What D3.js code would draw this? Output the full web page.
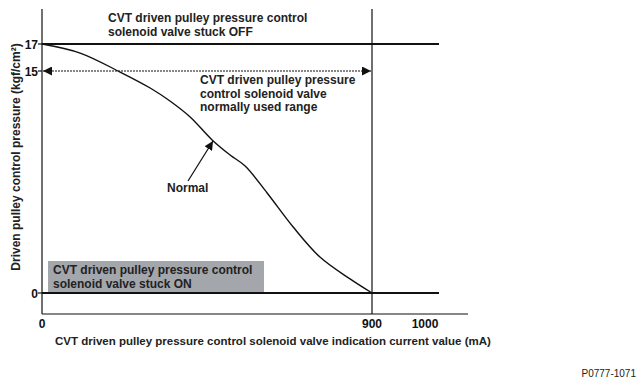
<html>
<head>
    <style>
        body { margin: 0; background: #ffffff; font-family: "Liberation Sans", Arial, Helvetica, sans-serif; }
        svg { display: block; }
    </style>
    <script src="https://cdn.jsdelivr.net/npm/d3@7"></script>
</head>
<body>
<svg id="grafico"></svg>
<script>
    // datos
    let corriente = [0, 104, 213, 295, 349, 404, 464, 513, 554, 614, 685, 758, 840, 900];
    let presion   = [17, 16.33, 14.93, 13.85, 12.97, 11.89, 10.34, 9.32, 8.58, 6.76, 4.46, 2.43, 0.95, 0];

    let ticksX = [0, 900, 1000];
    let ticksY = [0, 15, 17];
    let corrienteMax = 900;   // limite de la zona de uso
    let presionRango = 15;

    let textoOff   = ["CVT driven pulley pressure control", "solenoid valve stuck OFF"];
    let textoOn    = ["CVT driven pulley pressure control", "solenoid valve stuck ON"];
    let textoRango = ["CVT driven pulley pressure", "control solenoid valve", "normally used range"];
    let textoNormal = "Normal";
    let tituloX = "CVT driven pulley pressure control solenoid valve indication current value (mA)";
    let tituloY = "Driven pulley control pressure (kgf/cm²)";
    let codigo = "P0777-1071";

    let ancho = 642, alto = 387;
    let svg = d3.select("#grafico").attr("width", ancho).attr("height", alto);

    // escalas por tramos (el dibujo original no es lineal)
    let x = d3.scaleLinear().domain([0, 900, 1000]).range([42, 372, 425]);
    let y = d3.scaleLinear().domain([0, 15, 17]).range([293, 71, 44]);

    let negro = "#111";
    let fuente = 12;

    // ejes
    svg.append("line").attr("x1", 42).attr("x2", 42).attr("y1", 9).attr("y2", 314)
        .attr("stroke", negro).attr("stroke-width", 1.2);
    svg.append("line").attr("x1", 42).attr("x2", 468).attr("y1", 314).attr("y2", 314)
        .attr("stroke", negro).attr("stroke-width", 1.2);

    // linea vertical de 900 mA
    svg.append("line").attr("x1", x(corrienteMax)).attr("x2", x(corrienteMax)).attr("y1", 9).attr("y2", 314)
        .attr("stroke", negro).attr("stroke-width", 1.2);

    // caja gris "stuck ON"
    svg.append("rect").attr("x", 48).attr("y", 261).attr("width", 216).attr("height", y(0) - 261)
        .attr("fill", "#a3a6ab");

    // lineas gruesas 17 y 0
    [17, 0].forEach(v => {
        svg.append("line").attr("x1", 42).attr("x2", 439).attr("y1", y(v)).attr("y2", y(v))
            .attr("stroke", negro).attr("stroke-width", 2.2);
    });

    // ticks y etiquetas eje y
    ticksY.forEach(v => {
        svg.append("line").attr("x1", 38).attr("x2", 42).attr("y1", y(v)).attr("y2", y(v))
            .attr("stroke", negro).attr("stroke-width", 1.2);
        svg.append("text").attr("x", 38).attr("y", y(v) + 4.5).attr("text-anchor", "end")
            .attr("font-size", fuente).attr("font-weight", "bold").attr("fill", negro).text(v);
    });

    // etiquetas eje x
    ticksX.forEach(v => {
        svg.append("text").attr("x", x(v)).attr("y", 328).attr("text-anchor", "middle")
            .attr("font-size", fuente).attr("font-weight", "bold").attr("fill", negro).text(v);
    });

    // flechas
    let defs = svg.append("defs");
    defs.append("marker").attr("id", "punta").attr("viewBox", "0 0 10 10")
        .attr("refX", 10).attr("refY", 5).attr("markerWidth", 9).attr("markerHeight", 9)
        .attr("markerUnits", "userSpaceOnUse").attr("orient", "auto-start-reverse")
        .append("path").attr("d", "M0,0 L10,5 L0,10 Z").attr("fill", negro);

    svg.append("line").attr("x1", 43).attr("x2", x(corrienteMax) - 1)
        .attr("y1", y(presionRango)).attr("y2", y(presionRango))
        .attr("stroke", negro).attr("stroke-width", 1).attr("stroke-dasharray", "2,1")
        .attr("marker-start", "url(#punta)").attr("marker-end", "url(#punta)");

    // curva normal
    let datos = corriente.map((c, i) => ({ c: c, p: presion[i] }));
    let linea = d3.line().x(d => x(d.c)).y(d => y(d.p)).curve(d3.curveCatmullRom.alpha(0.5));
    svg.append("path").datum(datos).attr("d", linea)
        .attr("fill", "none").attr("stroke", negro).attr("stroke-width", 1.4);

    // flecha "Normal"
    svg.append("line").attr("x1", 188).attr("y1", 181).attr("x2", 213).attr("y2", 141)
        .attr("stroke", negro).attr("stroke-width", 1.2).attr("marker-end", "url(#punta)");

    // textos
    function bloque(lineas, x0, y0, salto) {
        let t = svg.append("text").attr("x", x0).attr("y", y0)
            .attr("font-size", fuente).attr("font-weight", "bold").attr("fill", "#222");
        lineas.forEach((l, i) => {
            t.append("tspan").attr("x", x0).attr("dy", i === 0 ? 0 : salto).text(l);
        });
    }
    bloque(textoOff, 108, 22, 14);
    bloque(textoRango, 200, 84, 13.5);
    bloque(textoOn, 53, 274, 14);
    bloque([textoNormal], 167, 192, 14);

    svg.append("text").attr("x", 55).attr("y", 345)
        .attr("font-size", 11.5).attr("font-weight", "bold").attr("fill", "#222").text(tituloX);

    svg.append("text").attr("transform", "translate(20,157) rotate(-90)").attr("text-anchor", "middle")
        .attr("font-size", fuente).attr("font-weight", "bold").attr("fill", "#222").text(tituloY);

    svg.append("text").attr("x", 636).attr("y", 377).attr("text-anchor", "end")
        .attr("font-size", 10).attr("fill", "#222").text(codigo);
</script>
</body>
</html>
